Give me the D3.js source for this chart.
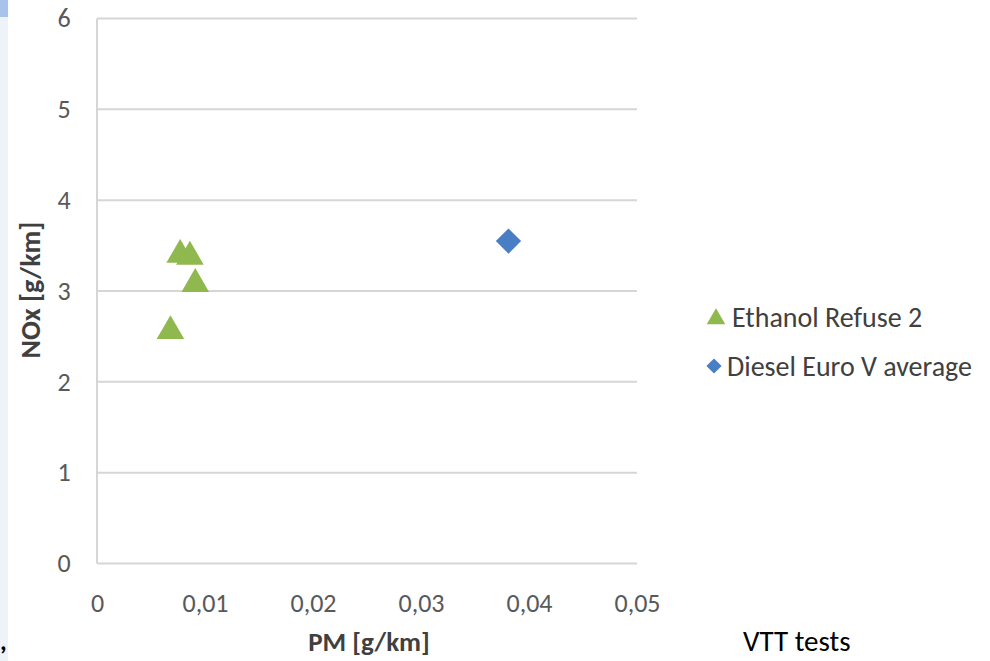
<!DOCTYPE html>
<html><head><meta charset="utf-8">
<script src="https://cdn.jsdelivr.net/npm/d3@7"></script>
<style>
html,body{margin:0;padding:0;background:#fff;}
svg{display:block;}
text{font-family:Carlito,Calibri,Lato,sans-serif;}
</style></head>
<body>
<svg id="chart" width="990" height="661"></svg>
<script>
// Data
const ethanolPM  = [0.0068, 0.0077, 0.0086, 0.0091];
const ethanolNOx = [2.58, 3.42, 3.40, 3.10];
const dieselPM   = [0.0381];
const dieselNOx  = [3.55];
const xTicks = [0, 0.01, 0.02, 0.03, 0.04, 0.05];
const yTicks = [0, 1, 2, 3, 4, 5, 6];
const seriesNames = ["Ethanol Refuse 2", "Diesel Euro V average"];
const seriesColors = ["#8fb84f", "#4a7ec4"];

const svg = d3.select("#chart");
const x = d3.scaleLinear().domain([0, 0.05]).range([97, 637]);
const y = d3.scaleLinear().domain([0, 6]).range([563.5, 18.5]);

// left decorative strip
svg.append("rect").attr("x",0).attr("y",0).attr("width",8).attr("height",661).attr("fill","#eef3fa");
svg.append("rect").attr("x",0).attr("y",0).attr("width",8).attr("height",17).attr("fill","#a7c3ea");

// gridlines
svg.append("g").selectAll("line").data(yTicks).join("line")
  .attr("x1", x(0)).attr("x2", x(0.05))
  .attr("y1", d => y(d)).attr("y2", d => y(d))
  .attr("stroke", "#d6d6d6").attr("stroke-width", 2);
// vertical axis line
svg.append("line").attr("x1", x(0)).attr("x2", x(0)).attr("y1", y(6)).attr("y2", y(0))
  .attr("stroke", "#d6d6d6").attr("stroke-width", 2);

// axes labels using d3 axes
const fmt = d => d === 0 ? "0" : d3.format(".2f")(d).replace(".", ",");
const xAxis = svg.append("g").attr("transform", `translate(0,${y(0)})`)
  .call(d3.axisBottom(x).tickValues(xTicks).tickFormat(fmt).tickSize(0).tickPadding(30));
xAxis.select(".domain").remove();
xAxis.selectAll("text").attr("font-size", 26).attr("fill", "#595959")
  .style("font-family","Carlito,Calibri,Lato,sans-serif").attr("dy","0.35em").attr("y", 39);

const yAxis = svg.append("g").attr("transform", `translate(${x(0)},0)`)
  .call(d3.axisLeft(y).tickValues(yTicks).tickFormat(d3.format("d")).tickSize(0).tickPadding(26));
yAxis.select(".domain").remove();
yAxis.selectAll("text").attr("font-size", 26).attr("fill", "#595959")
  .style("font-family","Carlito,Calibri,Lato,sans-serif").attr("text-anchor","middle").attr("x", -33);

// axis titles
svg.append("text").attr("x", 369).attr("y", 642).attr("dy","0.35em")
  .attr("text-anchor","middle").attr("font-size", 27).attr("font-weight","bold")
  .attr("fill","#404040").text("PM [g/km]");
svg.append("text").attr("transform","translate(30,290) rotate(-90)").attr("dy","0.35em")
  .attr("text-anchor","middle").attr("font-size", 28).attr("font-weight","bold")
  .attr("fill","#404040").text("NOx [g/km]");

// markers
const tri = d3.symbol().type(d3.symbolTriangle).size(330);
const sq = d3.symbol().type(d3.symbolSquare).size(320);
const eth = ethanolPM.map((v,i) => [v, ethanolNOx[i]]);
const die = dieselPM.map((v,i) => [v, dieselNOx[i]]);
svg.append("g").selectAll("path").data(eth).join("path")
  .attr("d", tri).attr("fill", seriesColors[0])
  .attr("transform", d => `translate(${x(d[0])},${y(d[1])+2})`);
svg.append("g").selectAll("path").data(die).join("path")
  .attr("d", sq).attr("fill", seriesColors[1])
  .attr("transform", d => `translate(${x(d[0])},${y(d[1])}) rotate(45)`);

// legend
const lg = svg.append("g");
const ly = [317, 366];
lg.append("path").attr("d", d3.symbol().type(d3.symbolTriangle).size(150)).attr("fill", seriesColors[0])
  .attr("transform", `translate(716,${ly[0]+2})`);
lg.append("path").attr("d", d3.symbol().type(d3.symbolSquare).size(115)).attr("fill", seriesColors[1])
  .attr("transform", `translate(714,${ly[1]}) rotate(45)`);
lg.selectAll("text").data(seriesNames).join("text")
  .attr("x", (d,i) => i === 0 ? 732 : 727).attr("y", (d,i) => ly[i]).attr("dy","0.35em")
  .attr("font-size", 28).attr("fill","#404040").text(d => d);

// footer
svg.append("text").attr("x", 743).attr("y", 651).attr("font-size", 29).attr("fill","#000").text("VTT tests");
svg.append("text").attr("x", 0).attr("y", 650).attr("font-size", 26).attr("font-weight","bold").attr("fill","#000").text(",");
</script>
</body></html>
